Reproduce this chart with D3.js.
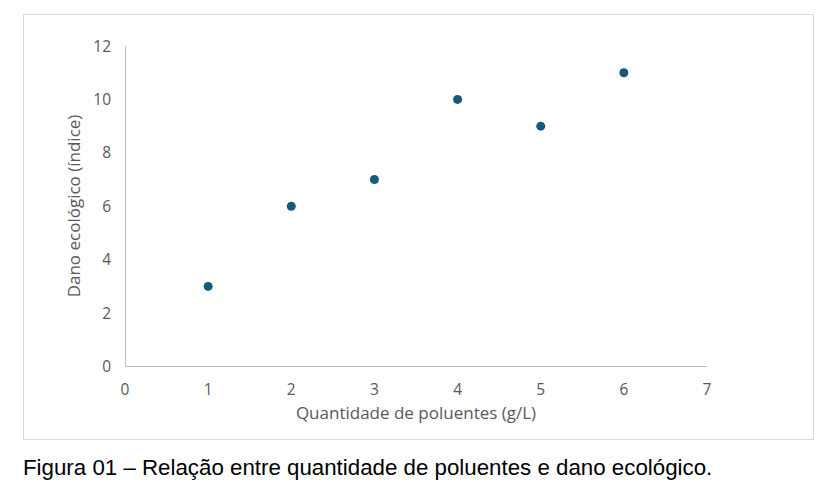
<!DOCTYPE html>
<meta charset="utf-8">
<style>
body { margin: 0; background: #fff; }
text { font-family: "Open Sans", sans-serif; }
</style>
<body>
<script src="https://d3js.org/d3.v7.min.js"></script>
<script>
// data
var quantidade = [1, 2, 3, 4, 5, 6];
var dano = [3, 6, 7, 10, 9, 11];
var xTicks = [0, 1, 2, 3, 4, 5, 6, 7];
var yTicks = [0, 2, 4, 6, 8, 10, 12];

var svg = d3.select("body").append("svg").attr("width", 833).attr("height", 494);

// chart frame
svg.append("rect").attr("x", 23.5).attr("y", 14.5).attr("width", 790).attr("height", 425)
	.attr("fill", "#fff").attr("stroke", "#d9d9d9");

var x = d3.scaleLinear().domain([0, 7]).range([125, 707]);
var y = d3.scaleLinear().domain([0, 12]).range([366.5, 46]);

// axes lines
svg.append("line").attr("x1", 125.5).attr("x2", 125.5).attr("y1", y(12)).attr("y2", y(0))
	.attr("stroke", "#bfbfbf");
svg.append("line").attr("x1", x(0)).attr("x2", x(7)).attr("y1", y(0)).attr("y2", y(0))
	.attr("stroke", "#bfbfbf");

svg.selectAll(".xt").data(xTicks).enter().append("text")
	.attr("x", d => x(d)).attr("y", 395)
	.attr("text-anchor", "middle").attr("font-size", 15.5).attr("fill", "#595959")
	.text(d => d);

svg.selectAll(".yt").data(yTicks).enter().append("text")
	.attr("x", 111).attr("y", d => y(d) + 5.5)
	.attr("text-anchor", "end").attr("font-size", 15.5).attr("fill", "#595959")
	.text(d => d);

svg.append("text").attr("x", 416).attr("y", 419).attr("text-anchor", "middle")
	.attr("font-size", 17).attr("fill", "#595959").text("Quantidade de poluentes (g/L)");

svg.append("text").attr("transform", "translate(80,206) rotate(-90)").attr("text-anchor", "middle")
	.attr("font-size", 17).attr("fill", "#595959").text("Dano ecológico (índice)");

svg.selectAll(".pt").data(quantidade).enter().append("circle")
	.attr("cx", d => x(d)).attr("cy", (d, i) => y(dano[i])).attr("r", 4.5)
	.attr("fill", "#155a7a");

svg.append("text").attr("x", 23).attr("y", 475)
	.style("font-family", "'Liberation Sans', Arial, sans-serif").attr("font-size", 22.3).attr("fill", "#000")
	.text("Figura 01 – Relação entre quantidade de poluentes e dano ecológico.");
</script>
</body>
